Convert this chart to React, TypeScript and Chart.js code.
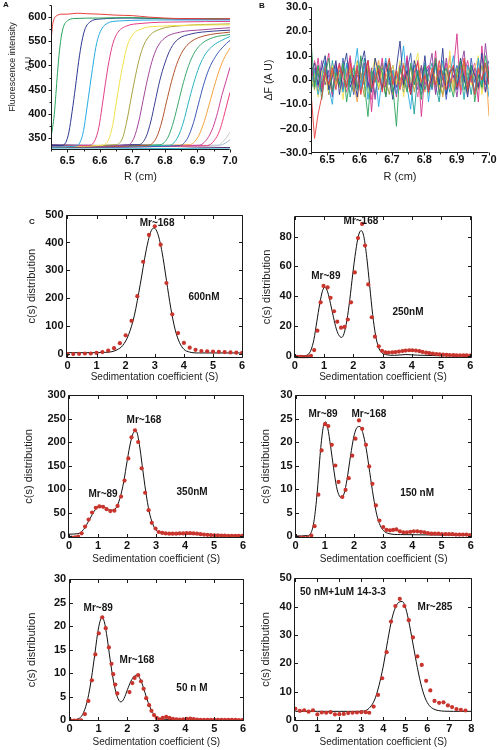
import React, { useEffect, useRef } from 'react';
import { Chart, registerables } from 'chart.js';

Chart.register(...registerables);

const FONT = '"Liberation Sans", Arial, Helvetica, sans-serif';

// ================= Panel A : raw scans (R cm, fluorescence) =================
const scanColorsA = [
  '#e8413c', '#2aa35a', '#2b3990', '#27aae1', '#e0408a', '#f2e14a', '#a8a23e',
  '#a2479b', '#3a3f94', '#b4532f', '#3aa76d', '#2bb3c0', '#3b5bb5', '#f5a33c',
  '#c9419b', '#ee3f7a', '#c8c8c8', '#9fb5d6', '#25b4c8', '#5a2d7a',
];
const scanA01 = [[6.45, 548], [6.452, 565], [6.455, 584], [6.46, 597], [6.468, 603], [6.48, 606], [6.5, 606], [6.53, 608], [6.56, 607], [6.6, 606], [6.65, 604], [6.7, 603], [6.75, 600], [6.8, 598], [6.85, 597], [6.9, 597], [6.95, 596], [7.0, 597]];
const scanA02 = [[6.45, 352], [6.455, 372], [6.46, 398], [6.465, 440], [6.47, 485], [6.476, 530], [6.483, 565], [6.49, 583], [6.5, 592], [6.52, 597], [6.6, 598], [6.7, 599], [6.8, 597], [7.0, 597]];
const scanA03 = [[6.45, 334], [6.48, 334], [6.495, 340], [6.505, 362], [6.515, 405], [6.525, 455], [6.535, 508], [6.545, 550], [6.555, 576], [6.57, 590], [6.6, 596], [6.7, 598], [6.85, 596], [7.0, 596]];
const scanA04 = [[6.45, 331], [6.525, 333], [6.54, 342], [6.55, 365], [6.56, 410], [6.57, 458], [6.58, 505], [6.59, 545], [6.603, 572], [6.62, 586], [6.66, 592], [6.8, 594], [7.0, 594]];
const scanA05 = [[6.45, 333], [6.57, 335], [6.585, 345], [6.597, 372], [6.607, 415], [6.617, 462], [6.628, 508], [6.64, 545], [6.655, 568], [6.68, 581], [6.73, 587], [6.85, 590], [7.0, 591]];
const scanA06 = [[6.45, 332], [6.61, 335], [6.628, 348], [6.64, 378], [6.65, 420], [6.66, 462], [6.672, 505], [6.685, 542], [6.7, 563], [6.725, 575], [6.78, 581], [7.0, 584]];
const scanA07 = [[6.45, 333], [6.65, 336], [6.67, 350], [6.683, 385], [6.695, 428], [6.707, 470], [6.72, 510], [6.735, 542], [6.755, 563], [6.785, 575], [6.85, 582], [7.0, 586]];
const scanA08 = [[6.45, 332], [6.685, 335], [6.705, 350], [6.72, 385], [6.733, 428], [6.746, 470], [6.76, 508], [6.777, 538], [6.8, 557], [6.84, 568], [6.92, 574], [7.0, 578]];
const scanA09 = [[6.45, 334], [6.72, 336], [6.742, 352], [6.757, 385], [6.77, 425], [6.784, 468], [6.8, 505], [6.818, 535], [6.84, 554], [6.88, 565], [6.95, 571], [7.0, 573]];
const scanA10 = [[6.45, 331], [6.75, 335], [6.775, 352], [6.791, 385], [6.805, 425], [6.82, 466], [6.836, 502], [6.855, 530], [6.88, 549], [6.92, 561], [7.0, 569]];
const scanA11 = [[6.45, 333], [6.785, 336], [6.81, 352], [6.827, 385], [6.842, 425], [6.857, 465], [6.873, 500], [6.892, 528], [6.915, 546], [6.95, 558], [7.0, 564]];
const scanA12 = [[6.45, 332], [6.815, 335], [6.84, 352], [6.857, 383], [6.872, 422], [6.888, 462], [6.905, 497], [6.925, 524], [6.95, 542], [6.975, 552], [7.0, 560]];
const scanA13 = [[6.45, 330], [6.845, 334], [6.87, 350], [6.888, 382], [6.903, 420], [6.918, 458], [6.935, 492], [6.955, 518], [6.978, 538], [7.0, 552]];
const scanA14 = [[6.45, 333], [6.875, 336], [6.9, 350], [6.918, 378], [6.933, 412], [6.948, 448], [6.963, 482], [6.98, 512], [7.0, 536]];
const scanA15 = [[6.45, 332], [6.905, 335], [6.93, 348], [6.948, 372], [6.962, 403], [6.975, 438], [6.988, 468], [7.0, 496]];
const scanA16 = [[6.45, 331], [6.93, 334], [6.952, 345], [6.968, 365], [6.98, 392], [6.99, 418], [7.0, 444]];
const scanA17 = [[6.45, 332], [6.96, 334], [6.975, 340], [6.988, 350], [7.0, 362]];
const scanA18 = [[6.45, 333], [6.97, 335], [6.985, 339], [7.0, 346]];
const scanA19 = [[6.45, 327], [6.6, 327], [6.8, 328], [7.0, 327]];
const scanA20 = [[6.45, 336], [6.55, 335], [6.65, 334], [6.7, 336], [6.8, 333], [6.9, 331], [7.0, 330]];
const scansA = [scanA01, scanA02, scanA03, scanA04, scanA05, scanA06, scanA07, scanA08, scanA09, scanA10,
  scanA11, scanA12, scanA13, scanA14, scanA15, scanA16, scanA17, scanA18, scanA19, scanA20];
const ticksAX = [6.5, 6.6, 6.7, 6.8, 6.9, 7.0];
const minorAX = [6.45, 6.55, 6.65, 6.75, 6.85, 6.95];
const ticksAY = [350, 400, 450, 500, 550, 600];
const minorAY = [375, 425, 475, 525, 575, 625];
const titleLinesA = ['Fluorescence intensity', 'A U'];

// ================= Panel B : residuals =================
const residR = [6.450, 6.461, 6.472, 6.483, 6.494, 6.505, 6.516, 6.527, 6.538, 6.549, 6.560, 6.571, 6.582, 6.593, 6.604, 6.615, 6.626, 6.637, 6.648, 6.659, 6.670, 6.681, 6.692, 6.703, 6.714, 6.725, 6.736, 6.747, 6.758, 6.769, 6.780, 6.791, 6.802, 6.813, 6.824, 6.835, 6.846, 6.857, 6.868, 6.879, 6.890, 6.901, 6.912, 6.923, 6.934, 6.945, 6.956, 6.967, 6.978, 6.989, 7.000];
const residColors = ['#e8413c', '#2aa35a', '#2b3990', '#27aae1', '#d6338a', '#f2e14a', '#a3a33a', '#8e3fa0', '#1a9d9a', '#f59c3c', '#3b5bb5', '#ec5a9b'];
const res01 = [-5, -24, -14, -7, 3, -2, 5, -4, 6, 1, -3, 7, -1, 4, -6, 2, 8, -3, 0, 5, -5, 3, 9, -2, 4, -4, 6, 0, -6, 3, 7, -1, 2, -5, 5, -2, 8, 1, -4, 3, 6, -3, 1, 9, -4, 2, -6, 5, 0, 7, -2];
const res02 = [16, -3, 6, -8, 2, 9, -5, 3, -2, 7, -9, 1, 5, -4, 10, -2, -15, 4, -1, 6, 3, -7, 8, -3, -19, 5, 1, -5, 7, -2, 4, -8, 6, 0, -3, 9, -6, 2, 5, -1, -7, 3, 8, -4, 1, 6, -9, 2, -3, 10, 1];
const res03 = [3, 7, -2, 5, 10, -4, 1, 8, -6, 4, 11, -3, 2, -7, 6, 12, -1, -5, 9, 3, -4, 7, 1, -8, 5, 16, -2, 4, -6, 8, 2, -3, 10, -5, 1, 7, -2, 13, -6, 3, 5, -4, 9, 1, -7, 6, 2, -3, 11, -5, 4];
const res04 = [-2, 4, -6, 1, 8, -3, -10, 5, 2, -5, 7, -1, 3, 13, -4, 6, -8, 2, 5, -11, 1, 9, -2, 4, -6, 3, 14, -3, -12, 6, 1, -4, 7, -9, 3, 5, -2, 8, -6, 2, 10, -3, 4, -8, 6, 1, -5, 9, -2, 3, -7];
const res05 = [5, -1, 9, -3, 4, 11, -6, 2, 7, -4, 1, 10, -2, 6, -5, 3, 8, -13, 4, -1, 9, -3, 5, 2, -7, 6, -2, 10, -4, 1, 8, -15, 3, 6, -2, 12, -5, 1, 7, -3, 4, 19, -6, 2, 8, -1, 5, -9, 14, -2, 6];
const res06 = [-3, 2, -7, 4, 1, -5, 6, -2, 3, -8, 5, -1, 2, 7, -4, 1, -6, 3, 9, -3, 4, -5, 1, 6, -2, 8, -7, 3, -1, 5, 11, -4, 2, -6, 4, 1, -3, 7, -2, 12, -5, 3, 1, -8, 6, -2, 4, 10, -6, 2, -4];
const res07 = [2, -4, 5, -1, 7, -6, 3, 1, -3, 6, -2, 4, -5, 8, 2, -7, 5, -1, 3, -4, 6, 1, -6, 4, -2, 7, -3, 2, 5, -5, 3, -1, 6, -4, 2, 8, -2, -6, 4, 1, -3, 5, -1, 7, -5, 3, 2, -4, 6, -1, 3];
const res08 = [1, 5, -3, 8, -2, 4, -7, 6, 1, -4, 3, 9, -5, 2, -1, 7, -3, 5, -8, 4, 2, -6, 7, 1, -3, 5, -1, 9, -5, 2, -4, 6, -2, 3, 11, -6, 4, -3, 9, -1, 2, -7, 5, 12, -3, 4, -6, 8, -2, 15, 1];
const res09 = [-4, 1, 6, -2, 3, -5, 8, -1, 4, -3, 6, -7, 2, 5, -2, 9, -4, 1, -6, 3, 7, -2, 4, -5, 1, 6, -3, 8, -1, -14, 3, 5, -4, 2, 7, -2, -9, 4, 1, -5, 6, -3, 8, -1, 3, -6, 5, 2, -4, 7, -2];
const res10 = [0, 3, -5, 2, 6, -3, 4, -1, 7, -4, 2, 5, -2, -9, 3, -1, 6, -4, 2, 8, -3, 1, 5, -6, 3, -2, 7, 1, -4, 4, -2, 6, -5, 3, 1, -3, 5, -7, 2, 6, -1, 3, -4, 8, -2, 1, -5, 4, -3, 7, -15];
const res11 = [6, -2, 3, -5, 7, 1, -4, 5, -2, 9, -3, 2, -6, 4, 1, -2, 8, -4, 3, -1, 5, -7, 2, 6, -3, 1, -5, 4, 11, -2, 3, -6, 1, 5, -4, 7, -2, 3, -8, 4, 1, 6, -3, 2, -5, 9, -1, 4, -2, 3, 8];
const res12 = [-1, 8, 2, -4, 5, -6, 3, 7, -2, 4, -5, 1, 6, -3, 9, -1, 4, -8, 2, 5, -3, 8, -2, 1, -6, 4, 2, -4, 6, 1, -7, 3, 5, -3, 2, -5, 6, 1, -2, 10, -4, 2, -1, 5, -6, 3, 7, -3, 1, -5, 2];
const residSeries = [res01, res02, res03, res04, res05, res06, res07, res08, res09, res10, res11, res12];
const ticksBY = [-30, -20, -10, 0, 10, 20, 30];
const minorBY = [-25, -15, -5, 5, 15, 25];

// ================= Panel C : c(s) distributions =================
const sTicks6 = [0, 1, 2, 3, 4, 5, 6];
const sTicks8 = [0, 1, 2, 3, 4, 5, 6, 7, 8];

// 600 nM
const c1DotX = [0, 0.2, 0.4, 0.6, 0.8, 1.0, 1.2, 1.4, 1.6, 1.8, 2.0, 2.2, 2.4, 2.6, 2.8, 3.0, 3.2, 3.4, 3.6, 3.8, 4.0, 4.2, 4.4, 4.6, 4.8, 5.0, 5.2, 5.4, 5.6, 5.8, 6.0];
const c1DotY = [1, 1, 2, 3, 3, 5, 8, 13, 22, 40, 68, 120, 208, 331, 427, 458, 392, 255, 143, 76, 41, 24, 16, 12, 11, 10, 9, 8, 7, 6, 5];
const c1FitX = [0, 0.5, 1.0, 1.3, 1.5, 1.7, 1.9, 2.1, 2.3, 2.5, 2.7, 2.85, 2.97, 3.1, 3.25, 3.4, 3.55, 3.7, 3.85, 4.0, 4.2, 4.5, 5, 6];
const c1FitY = [6, 6, 6, 7, 9, 16, 32, 70, 140, 250, 370, 435, 452, 432, 365, 265, 165, 88, 42, 18, 8, 5, 5, 5];
const c1Ticks = [0, 100, 200, 300, 400, 500];

// 250 nM
const c2DotX = [0.08, 0.20, 0.31, 0.43, 0.55, 0.66, 0.77, 0.88, 0.98, 1.12, 1.22, 1.34, 1.45, 1.58, 1.70, 1.81, 1.92, 2.05, 2.16, 2.30, 2.40, 2.51, 2.63, 2.74, 2.87, 2.98, 3.10, 3.21, 3.33, 3.44, 3.56, 3.68, 3.79, 3.91, 4.02, 4.14, 4.26, 4.37, 4.49, 4.60, 4.72, 4.84, 4.95, 5.07, 5.19, 5.30, 5.42, 5.53, 5.65, 5.77, 5.88, 6.00];
const c2DotY = [-0.5, -0.5, -0.7, -0.5, 0.2, 4, 17, 36, 47, 46, 39, 30, 23, 19, 19.5, 24.5, 36, 56, 79, 88.5, 74, 48, 26, 13, 6.5, 3.5, 2.5, 2.4, 2.5, 2.7, 3.0, 3.4, 3.7, 3.9, 3.9, 3.7, 3.3, 2.8, 2.3, 1.9, 1.6, 1.3, 1.1, 0.9, 0.8, 0.7, 0.6, 0.5, 0.5, 0.4, 0.4, 0.3];
const c2FitX = [0, 0.3, 0.45, 0.55, 0.65, 0.75, 0.85, 0.95, 1.03, 1.12, 1.22, 1.32, 1.42, 1.52, 1.6, 1.68, 1.78, 1.88, 1.98, 2.08, 2.18, 2.27, 2.36, 2.46, 2.56, 2.66, 2.76, 2.86, 2.96, 3.1, 3.4, 3.8, 4.2, 5, 6];
const c2FitY = [0, 0.2, 1, 4, 11, 23, 35, 44, 46, 43, 35, 26, 18, 13.5, 12.5, 15, 24, 38, 55, 70, 81, 84, 80, 66, 47, 28, 14, 6, 2.5, 1, 0.5, 1, 0.6, 0.2, 0.1];
const c2Ticks = [0, 20, 40, 60, 80];

// 350 nM
const c3DotX = [0.08, 0.20, 0.31, 0.43, 0.55, 0.67, 0.79, 0.92, 1.04, 1.17, 1.29, 1.42, 1.56, 1.67, 1.79, 1.91, 2.04, 2.15, 2.27, 2.38, 2.50, 2.62, 2.74, 2.85, 2.98, 3.09, 3.21, 3.33, 3.45, 3.57, 3.69, 3.81, 3.93, 4.05, 4.17, 4.29, 4.41, 4.53, 4.65, 4.77, 4.89, 5.01, 5.13, 5.25, 5.37, 5.49, 5.61, 5.73, 5.85, 5.97];
const c3DotY = [-3.5, -2.8, -1.4, 5.7, 20, 35, 50, 60, 63, 62, 57, 53, 54, 64, 84, 118, 165, 210, 225, 200, 144, 92, 55, 28, 16, 8.5, 6.5, 5.5, 5, 5, 5, 5.5, 5.5, 6, 6, 5.5, 5, 4, 3, 2.5, 2, 1.5, 1.2, 1, 0.8, 0.6, 0.5, 0.4, 0.3, 0.3];
const c3FitX = [0, 0.3, 0.5, 0.7, 0.9, 1.05, 1.2, 1.35, 1.5, 1.62, 1.75, 1.88, 2.0, 2.12, 2.25, 2.32, 2.42, 2.52, 2.64, 2.76, 2.88, 3.0, 3.15, 3.4, 4.5, 5, 6];
const c3FitY = [4, 5, 14, 35, 56, 64, 62, 56, 55, 60, 80, 115, 160, 200, 222, 222, 195, 150, 95, 52, 26, 12, 7, 5, 4, 2, 1];
const c3Ticks = [0, 50, 100, 150, 200, 250, 300];

// 150 nM
const c4DotX = [0.03, 0.15, 0.27, 0.40, 0.54, 0.65, 0.78, 0.89, 1.01, 1.12, 1.24, 1.36, 1.47, 1.60, 1.71, 1.82, 1.94, 2.05, 2.17, 2.28, 2.41, 2.52, 2.63, 2.75, 2.87, 3.00, 3.11, 3.23, 3.34, 3.45, 3.57, 3.69, 3.81, 3.93, 4.05, 4.17, 4.29, 4.41, 4.53, 4.65, 4.77, 4.89, 5.01, 5.13, 5.25, 5.37, 5.49, 5.61, 5.73, 5.85, 5.97];
const c4DotY = [-0.3, -0.35, -0.35, -0.35, 0.1, 2.1, 8.8, 18.2, 23.8, 23.4, 19.4, 15, 11.5, 8.3, 9.8, 12.3, 17.1, 20.7, 24.6, 22.8, 19.4, 14.8, 11.1, 6.5, 3.3, 1.9, 1.3, 1.2, 1.3, 1.4, 1.0, 0.8, 0.8, 0.9, 1.0, 1.0, 0.9, 0.8, 0.6, 0.5, 0.5, 0.5, 0.4, 0.4, 0.4, 0.4, 0.3, 0.3, 0.3, 0.3, 0.2];
const c4FitX = [0, 0.4, 0.55, 0.65, 0.75, 0.85, 0.95, 1.02, 1.1, 1.2, 1.3, 1.4, 1.5, 1.58, 1.66, 1.76, 1.88, 2.0, 2.12, 2.2, 2.3, 2.42, 2.54, 2.66, 2.78, 2.9, 3.0, 3.2, 3.6, 6];
const c4FitY = [0, 0.1, 1, 4, 10, 18, 23.3, 24.3, 23, 19, 14.5, 10.5, 8.5, 8.2, 9, 12, 17, 21.3, 23.2, 23.3, 22, 18.5, 13.5, 8.5, 4.5, 2.2, 1.2, 0.5, 0.3, 0.2];
const c4Ticks = [0, 5, 10, 15, 20, 25, 30];

// 50 nM
const c5DotX = [0.05, 0.16, 0.28, 0.40, 0.53, 0.65, 0.77, 0.89, 1.01, 1.13, 1.25, 1.36, 1.45, 1.51, 1.58, 1.65, 2.07, 2.17, 2.25, 2.37, 2.47, 2.56, 2.65, 2.75, 2.83, 2.92, 3.01, 3.12, 3.22, 3.34, 3.45, 3.57, 3.69, 3.81, 3.93, 4.05, 4.17, 4.29, 4.41, 4.53, 4.65, 4.77, 4.89, 5.01, 5.13, 5.25, 5.37, 5.49, 5.61, 5.73, 5.85, 5.97];
const c5DotY = [-0.1, -0.1, -0.1, 0, 1.3, 4.1, 8.5, 14, 18.5, 21.9, 19.6, 15.5, 12, 9.8, 7.6, 5.7, 6.0, 7.9, 9.0, 9.6, 8.3, 6.7, 4.7, 3.2, 2.0, 1.1, 0.5, 0.2, 0.5, 0.7, 0.5, 0.3, 0.2, 0.15, 0.2, 0.3, 0.35, 0.25, 0.15, 0.1, 0.1, 0.1, 0.1, 0.1, 0.1, 0.1, 0.1, 0.1, 0.1, 0.1, 0.05, 0.05];
const c5FitX = [0, 0.3, 0.45, 0.6, 0.72, 0.85, 0.97, 1.05, 1.12, 1.2, 1.3, 1.4, 1.5, 1.6, 1.7, 1.78, 1.88, 2.0, 2.12, 2.24, 2.34, 2.44, 2.55, 2.66, 2.78, 2.9, 3.05, 3.3, 4, 6];
const c5FitY = [0, 0.3, 1.2, 3.8, 7.5, 13, 18.5, 21, 21.9, 21, 17.5, 13, 9, 6, 4.3, 3.9, 4.6, 6.5, 8.3, 9.4, 9.6, 8.8, 7, 4.8, 2.8, 1.4, 0.5, 0.2, 0.1, 0.05];
const c5Ticks = [0, 5, 10, 15, 20, 25, 30];

// 50 nM + 1 uM 14-3-3
const c6DotX = [0, 0.2, 0.4, 0.6, 0.8, 1.0, 1.2, 1.4, 1.6, 1.8, 2.0, 2.2, 2.4, 2.6, 2.8, 3.0, 3.2, 3.36, 3.56, 3.76, 3.95, 4.15, 4.35, 4.55, 4.75, 4.96, 5.16, 5.35, 5.55, 5.75, 5.95, 6.14, 6.33, 6.54, 6.74, 6.94, 7.13, 7.33, 7.53, 7.74];
const c6DotY = [3.9, 3.2, 3.4, 2.9, 3.4, 1.9, 2.6, 2.5, 2.7, 1.9, 2.0, 2.1, 2.4, 2.5, 2.6, 2.7, 2.7, 2.5, 4.7, 8.8, 14.7, 23.9, 34.7, 40.2, 42.7, 40.2, 35.2, 29.1, 22.4, 19.4, 13.8, 10.4, 6.7, 6.0, 6.2, 5.1, 4.5, 3.8, 3.5, 3.3];
const c6FitX = [0, 1, 2, 2.8, 3.2, 3.4, 3.6, 3.8, 4.0, 4.2, 4.4, 4.6, 4.75, 4.85, 4.95, 5.1, 5.3, 5.5, 5.7, 5.9, 6.1, 6.3, 6.5, 6.8, 7.2, 8];
const c6FitY = [3, 3, 3, 3, 3.3, 4.5, 7, 12, 19, 28, 36, 40.5, 41.7, 41.8, 41, 37, 29, 20.5, 13, 7.8, 5, 3.8, 3.3, 3.05, 3, 3];
const c6Ticks = [0, 10, 20, 30, 40, 50];

// ================= plugins =================
const framePlugin = {
  id: 'frame',
  afterDatasetsDraw(chart: any, _a: any, o: any) {
    const { ctx, chartArea: ca, scales } = chart;
    const xs = scales.x;
    const ys = scales.y;
    const L = Math.round(ca.left) + 0.5;
    const R = Math.round(ca.right) - 0.5;
    const T = Math.round(ca.top) + 0.5;
    const B = Math.round(ca.bottom) - 0.5;
    ctx.save();
    ctx.strokeStyle = '#1a1a1a';
    ctx.lineWidth = 1;
    ctx.beginPath();
    if (o.box) {
      ctx.rect(L, T, R - L, B - T);
    } else {
      ctx.moveTo(L, T);
      ctx.lineTo(L, B);
      ctx.lineTo(R, B);
    }
    const d = o.inside ? -1 : 1;
    const drawX = (vals: number[], len: number) => {
      for (const v of vals || []) {
        const p = Math.round(xs.getPixelForValue(v)) + 0.5;
        ctx.moveTo(p, B);
        ctx.lineTo(p, B + d * len);
        if (o.box) {
          ctx.moveTo(p, T);
          ctx.lineTo(p, T + len);
        }
      }
    };
    const drawY = (vals: number[], len: number) => {
      for (const v of vals || []) {
        const p = Math.round(ys.getPixelForValue(v)) + 0.5;
        ctx.moveTo(L, p);
        ctx.lineTo(L - d * len, p);
        if (o.box) {
          ctx.moveTo(R, p);
          ctx.lineTo(R - len, p);
        }
      }
    };
    drawX(o.xTicks, o.len);
    drawX(o.xMinor, o.minorLen);
    drawY(o.yTicks, o.len);
    drawY(o.yMinor, o.minorLen);
    ctx.stroke();
    ctx.restore();
  },
};

const notePlugin = {
  id: 'notes',
  afterDraw(chart: any, _a: any, o: any) {
    if (!o || !o.items) return;
    const { ctx, scales } = chart;
    ctx.save();
    ctx.font = 'bold 10px ' + FONT;
    ctx.fillStyle = '#151515';
    ctx.textBaseline = 'middle';
    for (const it of o.items) {
      ctx.textAlign = it.align || 'center';
      ctx.fillText(it.text, scales.x.getPixelForValue(it.x), scales.y.getPixelForValue(it.y));
    }
    ctx.restore();
  },
};

// ================= panel builder =================
type Box = { l: number; r: number; t: number; b: number };
type Cv = { left: number; top: number; width: number; height: number };
interface PanelDef {
  cv: Cv;
  box: Box;
  xMin: number; xMax: number; yMin: number; yMax: number;
  xTicks: number[]; yTicks: number[];
  xMinor?: number[]; yMinor?: number[];
  xFmt: (v: number) => string; yFmt: (v: number) => string;
  xTitle: string; yTitle: string | string[];
  showYTitle?: boolean;
  xTitleSize: number; yTitleSize: number; yTitleLH: number;
  yTitleX: number; xTitleY: number;
  xTickPad: number; yTickPad: number;
  boxed: boolean;
  datasets: any[];
  notes?: { text: string; x: number; y: number; align?: string }[];
}

const zip = (xs: number[], ys: number[]) => xs.map((x, i) => ({ x, y: ys[i] })).filter((p) => p.y !== undefined);

const cDatasets = (dx: number[], dy: number[], fx: number[], fy: number[]) => [
  {
    data: zip(dx, dy), showLine: false, pointRadius: 2.1, pointBorderWidth: 0,
    pointBackgroundColor: '#c9342c', borderColor: '#c9342c',
  },
  {
    data: zip(fx, fy), showLine: true, borderColor: '#111', borderWidth: 1, pointRadius: 0,
    cubicInterpolationMode: 'monotone', fill: false,
  },
];

const intFmt = (v: number) => String(v);

function buildConfig(p: PanelDef) {
  const tickFont = { size: 11, weight: 'bold' as const, family: FONT, lineHeight: 1.2 };
  const xLh = p.xTitleSize * 1.2;
  const yLh = p.yTitleSize * p.yTitleLH;
  return {
    type: 'scatter',
    data: { datasets: p.datasets },
    plugins: [framePlugin, notePlugin],
    options: {
      animation: false,
      responsive: false,
      maintainAspectRatio: false,
      devicePixelRatio: 1,
      events: [],
      layout: {
        padding: { left: 0, top: p.box.t - p.cv.top, right: p.cv.left + p.cv.width - p.box.r, bottom: 0 },
      },
      plugins: {
        legend: { display: false },
        tooltip: { enabled: false },
        title: { display: false },
        frame: {
          box: p.boxed, inside: p.boxed, len: p.boxed ? 3.5 : 3, minorLen: 2,
          xTicks: p.xTicks, yTicks: p.yTicks, xMinor: p.xMinor || [], yMinor: p.yMinor || [],
        },
        notes: { items: p.notes || [] },
      },
      scales: {
        x: {
          type: 'linear', min: p.xMin, max: p.xMax,
          grid: { display: false, drawTicks: false, tickLength: 0 },
          border: { display: false },
          ticks: {
            font: tickFont, color: '#111', padding: p.xTickPad, autoSkip: false, maxRotation: 0,
            callback: (v: number) => p.xFmt(v),
          },
          afterBuildTicks: (s: any) => { s.ticks = p.xTicks.map((v) => ({ value: v })); },
          afterFit: (s: any) => { s.height = p.cv.top + p.cv.height - p.box.b; },
          title: {
            display: true, text: p.xTitle, color: '#222',
            font: { size: p.xTitleSize, family: FONT, lineHeight: 1.2 },
            padding: { top: 0, bottom: p.cv.top + p.cv.height - xLh / 2 - p.xTitleY },
          },
        },
        y: {
          type: 'linear', min: p.yMin, max: p.yMax,
          grid: { display: false, drawTicks: false, tickLength: 0 },
          border: { display: false },
          ticks: {
            font: tickFont, color: '#111', padding: p.yTickPad, autoSkip: false,
            callback: (v: number) => p.yFmt(v),
          },
          afterBuildTicks: (s: any) => { s.ticks = p.yTicks.map((v) => ({ value: v })); },
          afterFit: (s: any) => { s.width = p.box.l - p.cv.left; },
          title: {
            display: p.showYTitle !== false, text: p.yTitle, color: '#222',
            font: { size: p.yTitleSize, family: FONT, lineHeight: p.yTitleLH },
            padding: { top: p.yTitleX - p.cv.left - yLh / 2, bottom: 0 },
          },
        },
      },
    },
  };
}

const dashFmt = (v: number) => (v < 0 ? '\u2013' + Math.abs(v).toFixed(1) : v.toFixed(1));

const panelA: PanelDef = {
  cv: { left: 0, top: -15, width: 262, height: 200 },
  box: { l: 51, r: 230, t: 5, b: 150 },
  xMin: 6.45, xMax: 7.0, yMin: 325, yMax: 625,
  xTicks: ticksAX, yTicks: ticksAY, xMinor: minorAX, yMinor: minorAY,
  xFmt: (v) => v.toFixed(1), yFmt: intFmt,
  xTitle: 'R (cm)', yTitle: titleLinesA, showYTitle: false,
  xTitleSize: 11, yTitleSize: 9, yTitleLH: 1.2,
  yTitleX: 12, xTitleY: 177, xTickPad: 3.9, yTickPad: 4.5,
  boxed: false,
  datasets: scansA.map((pts, i) => ({
    data: pts.map(([x, y]) => ({ x, y })), showLine: true, borderColor: scanColorsA[i],
    borderWidth: 1, pointRadius: 0, cubicInterpolationMode: 'monotone', fill: false,
  })),
};

const panelB: PanelDef = {
  cv: { left: 240, top: -15, width: 285, height: 200 },
  box: { l: 311, r: 489, t: 7, b: 153 },
  xMin: 6.45, xMax: 7.0, yMin: -30, yMax: 30,
  xTicks: ticksAX, yTicks: ticksBY, xMinor: minorAX, yMinor: minorBY,
  xFmt: (v) => v.toFixed(1), yFmt: dashFmt,
  xTitle: 'R (cm)', yTitle: '\u0394F (A U)',
  xTitleSize: 11, yTitleSize: 10.5, yTitleLH: 1.2,
  yTitleX: 269, xTitleY: 177, xTickPad: 0.7, yTickPad: 3.5,
  boxed: false,
  datasets: residSeries.map((s, i) => ({
    data: zip(residR, s), showLine: true, borderColor: residColors[i], borderWidth: 0.9,
    pointRadius: 0, tension: 0, fill: false,
  })),
};

const SED = 'Sedimentation coefficient (S)';
const CDIST = 'c(s) distribution';

const cCommon = {
  xFmt: intFmt, yFmt: intFmt, xTitle: SED, yTitle: CDIST,
  xTitleSize: 10, yTitleSize: 11, yTitleLH: 1.2, xTickPad: 1.5, yTickPad: 2.5, boxed: true,
};

const panelC1: PanelDef = {
  ...cCommon,
  cv: { left: 0, top: 195, width: 270, height: 195 },
  box: { l: 66, r: 243, t: 214.5, b: 357.7 },
  xMin: -0.05, xMax: 6.03, yMin: -12, yMax: 500,
  xTicks: sTicks6, yTicks: c1Ticks, yTitleX: 31.7, xTitleY: 377,
  datasets: cDatasets(c1DotX, c1DotY, c1FitX, c1FitY),
  notes: [{ text: 'Mr~168', x: 3.08, y: 469 }, { text: '600nM', x: 4.69, y: 205 }],
};
const panelC2: PanelDef = {
  ...cCommon,
  cv: { left: 250, top: 195, width: 270, height: 195 },
  box: { l: 294.3, r: 471.7, t: 215.7, b: 358.3 },
  xMin: -0.02, xMax: 6.05, yMin: -1.5, yMax: 94,
  xTicks: sTicks6, yTicks: c2Ticks, yTitleX: 266.7, xTitleY: 377,
  datasets: cDatasets(c2DotX, c2DotY, c2FitX, c2FitY),
  notes: [{ text: 'Mr~168', x: 2.26, y: 90.4 }, { text: 'Mr~89', x: 1.06, y: 53.6 }, { text: '250nM', x: 3.87, y: 29.5 }],
};
const panelC3: PanelDef = {
  ...cCommon,
  cv: { left: 0, top: 380, width: 270, height: 190 },
  box: { l: 68.3, r: 244, t: 395, b: 537.7 },
  xMin: -0.03, xMax: 6.03, yMin: -3.6, yMax: 300,
  xTicks: sTicks6, yTicks: c3Ticks, yTitleX: 29.3, xTitleY: 559,
  datasets: cDatasets(c3DotX, c3DotY, c3FitX, c3FitY),
  notes: [{ text: 'Mr~168', x: 2.58, y: 247 }, { text: 'Mr~89', x: 1.17, y: 89 }, { text: '350nM', x: 4.24, y: 94 }],
};
const panelC4: PanelDef = {
  ...cCommon,
  cv: { left: 250, top: 380, width: 270, height: 190 },
  box: { l: 295, r: 472.3, t: 395, b: 537.7 },
  xMin: -0.02, xMax: 6.05, yMin: -0.36, yMax: 30,
  xTicks: sTicks6, yTicks: c4Ticks, yTitleX: 266, xTitleY: 559,
  datasets: cDatasets(c4DotX, c4DotY, c4FitX, c4FitY),
  notes: [{ text: 'Mr~89', x: 0.94, y: 26 }, { text: 'Mr~168', x: 2.51, y: 26 }, { text: '150 nM', x: 4.16, y: 9.1 }],
};
const panelC5: PanelDef = {
  ...cCommon,
  cv: { left: 0, top: 565, width: 270, height: 190 },
  box: { l: 68.7, r: 244, t: 579.3, b: 720.7 },
  xMin: -0.03, xMax: 6.03, yMin: -0.1, yMax: 30,
  xTicks: sTicks6, yTicks: c5Ticks, yTitleX: 31.7, xTitleY: 742,
  datasets: cDatasets(c5DotX, c5DotY, c5FitX, c5FitY),
  notes: [{ text: 'Mr~89', x: 0.99, y: 23.8 }, { text: 'Mr~168', x: 2.33, y: 12.7 }, { text: '50 n M', x: 4.23, y: 6.9 }],
};
const panelC6: PanelDef = {
  ...cCommon,
  cv: { left: 250, top: 565, width: 270, height: 190 },
  box: { l: 294.3, r: 472.3, t: 578.3, b: 720.7 },
  xMin: -0.05, xMax: 8.05, yMin: -0.3, yMax: 50,
  xTicks: sTicks8, yTicks: c6Ticks, yTitleX: 266, xTitleY: 742,
  datasets: cDatasets(c6DotX, c6DotY, c6FitX, c6FitY),
  notes: [{ text: '50 nM+1uM 14-3-3', x: 0.21, y: 45.2, align: 'left' }, { text: 'Mr~285', x: 6.35, y: 39.8 }],
};

const panels = [panelA, panelB, panelC1, panelC2, panelC3, panelC4, panelC5, panelC6];

function Panel({ def }: { def: PanelDef }) {
  const ref = useRef<HTMLCanvasElement>(null);
  useEffect(() => {
    if (!ref.current) return;
    const chart = new Chart(ref.current, buildConfig(def) as any);
    return () => chart.destroy();
  }, [def]);
  return (
    <canvas
      ref={ref}
      width={def.cv.width}
      height={def.cv.height}
      style={{ position: 'absolute', left: def.cv.left, top: def.cv.top, width: def.cv.width, height: def.cv.height, display: 'block' }}
    />
  );
}

const letterStyle = (left: number, top: number): React.CSSProperties => ({
  position: 'absolute', left, top, fontFamily: FONT, fontWeight: 'bold', fontSize: 8, lineHeight: 1, color: '#111',
});

const rotTitle = (cx: number, cy: number): React.CSSProperties => ({
  position: 'absolute', left: cx, top: cy, transform: 'translate(-50%, -50%) rotate(-90deg)',
  fontFamily: FONT, fontSize: 9, lineHeight: 1, color: '#222', whiteSpace: 'nowrap',
});

export default function App() {
  return (
    <div style={{ position: 'absolute', left: 0, top: 0, width: 497, height: 750, overflow: 'hidden', background: '#fff' }}>
      {panels.map((p, i) => (
        <Panel key={i} def={p} />
      ))}
      <div style={rotTitle(12, 67)}>{titleLinesA[0]}</div>
      <div style={rotTitle(27.5, 64)}>{titleLinesA[1]}</div>
      <div style={letterStyle(3, 1)}>A</div>
      <div style={letterStyle(259, 1.7)}>B</div>
      <div style={letterStyle(29, 218.3)}>C</div>
    </div>
  );
}
